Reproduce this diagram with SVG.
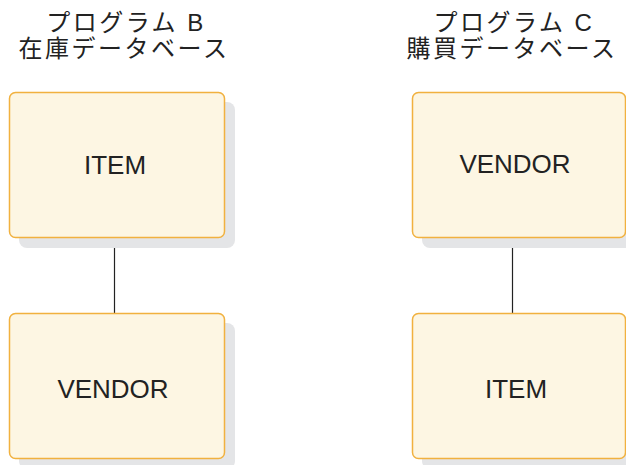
<svg xmlns="http://www.w3.org/2000/svg" width="626" height="465" viewBox="0 0 626 465">
<style>
.bg{fill:#ffffff}
.shadow{fill:#e4e5e7}
.box{fill:#fdf6e3;stroke:#f1b13f;stroke-width:1.5}
.title{font-family:"Liberation Sans","Noto Sans CJK JP",sans-serif;font-size:24px;fill:#222222;text-anchor:middle;letter-spacing:2.5px}
.label{font-family:"Liberation Sans","Noto Sans CJK JP",sans-serif;font-size:26px;fill:#222222;text-anchor:middle}
.conn{stroke:#222222;stroke-width:1.2;fill:none}
</style>
<rect class="bg" x="0" y="0" width="626" height="465"/>
<g id="title-b">
<text class="title" x="126" y="31">プログラム B</text>
<text class="title" x="124" y="57">在庫データベース</text>
</g>
<g id="title-c">
<text class="title" x="514" y="31">プログラム C</text>
<text class="title" x="512" y="57">購買データベース</text>
</g>
<g id="connectors">
<line class="conn" x1="114.5" y1="238" x2="114.5" y2="313"/>
<line class="conn" x1="512.5" y1="238" x2="512.5" y2="313"/>
</g>
<g id="b-item">
<rect class="shadow" x="19" y="102" width="216" height="146" rx="8"/>
<rect class="box" x="9.5" y="92.5" width="215" height="145" rx="6"/>
<text class="label" x="115" y="174">ITEM</text>
</g>
<g id="b-vendor">
<rect class="shadow" x="19" y="323" width="216" height="146" rx="8"/>
<rect class="box" x="9.5" y="313.5" width="215" height="145" rx="6"/>
<text class="label" x="113" y="398">VENDOR</text>
</g>
<g id="c-vendor">
<rect class="shadow" x="422" y="102" width="216" height="146" rx="8"/>
<rect class="box" x="412.5" y="92.5" width="213" height="145" rx="6"/>
<text class="label" x="515" y="173">VENDOR</text>
</g>
<g id="c-item">
<rect class="shadow" x="422" y="323" width="216" height="146" rx="8"/>
<rect class="box" x="412.5" y="313.5" width="213" height="145" rx="6"/>
<text class="label" x="516" y="398">ITEM</text>
</g>
</svg>
